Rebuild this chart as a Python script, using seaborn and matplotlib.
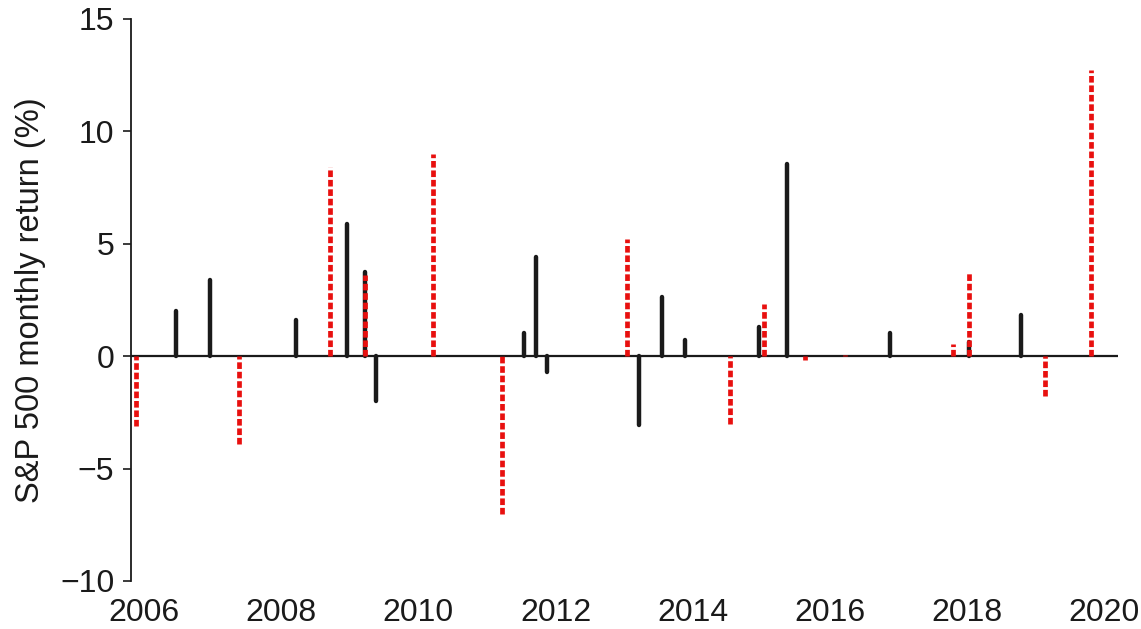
import seaborn as sns
import matplotlib.pyplot as plt
import pandas as pd

# event months (decimal year) and S&P 500 monthly return (%)
red_years = [2005.88, 2007.39, 2008.71, 2009.22, 2010.21, 2011.22, 2013.04, 2014.55,
             2015.04, 2015.63, 2016.22, 2017.80, 2018.03, 2019.13, 2019.80]
red_returns = [-3.1, -3.9, 8.4, 3.6, 9.0, -7.0, 5.2, -3.0,
               2.3, -0.15, 0.05, 0.55, 3.75, -1.75, 12.75]

black_years = [2006.47, 2006.96, 2008.22, 2008.96, 2009.22, 2009.38, 2011.54, 2011.71,
               2011.88, 2013.21, 2013.55, 2013.88, 2014.96, 2015.38, 2016.87, 2018.03, 2018.79]
black_returns = [2.0, 3.4, 1.6, 5.9, 3.75, -2.0, 1.05, 4.4,
                 -0.7, -3.08, 2.65, 0.72, 1.32, 8.55, 1.02, 0.62, 1.85]


def stems(years, rets, kind):
    rows = []
    for i, (x, y) in enumerate(zip(years, rets)):
        rows.append({"year": x, "ret": 0.0, "event": f"{kind}{i}"})
        rows.append({"year": x, "ret": y, "event": f"{kind}{i}"})
    return pd.DataFrame(rows)


df_black = stems(black_years, black_returns, "b")
df_red = stems(red_years, red_returns, "r")

sns.set_style("ticks")
plt.rcParams["font.family"] = ["Liberation Sans", "DejaVu Sans"]
ink = "#1a1a1a"
plt.rcParams["text.color"] = ink
plt.rcParams["axes.labelcolor"] = ink
plt.rcParams["xtick.color"] = ink
plt.rcParams["ytick.color"] = ink

fig = plt.figure(figsize=(11.41, 6.29), dpi=100)
ax = fig.add_axes([131 / 1141, 1 - 581 / 629, (1118 - 131) / 1141, (581 - 19) / 629])

ax.axhline(0, color=ink, lw=1.6, zorder=1)

sns.lineplot(data=df_black, x="year", y="ret", units="event", estimator=None,
             color=ink, lw=3.2, solid_capstyle="round", ax=ax, zorder=2)
sns.lineplot(data=df_red, x="year", y="ret", units="event", estimator=None,
             color="#e8100f", lw=3.4, ax=ax, zorder=3,
             linestyle=(0, (1.4, 0.6)), dash_capstyle="butt")

ax.set_xlim(2005.81, 2020.2)
ax.set_ylim(-10, 15)
ax.set_xticks([2006, 2008, 2010, 2012, 2014, 2016, 2018, 2020])
ax.set_yticks([-10, -5, 0, 5, 10, 15])
ax.set_xlabel("")
ax.set_ylabel("S&P 500 monthly return (%)", fontsize=23.5, labelpad=10)
ax.tick_params(axis="y", labelsize=23, length=6, width=1.2, direction="out", pad=6)
ax.tick_params(axis="x", labelsize=23, length=0, pad=12)

for side in ["top", "right", "bottom"]:
    ax.spines[side].set_visible(False)
ax.spines["left"].set_linewidth(1.3)
ax.spines["left"].set_color(ink)

plt.savefig("out.png", dpi=100)
